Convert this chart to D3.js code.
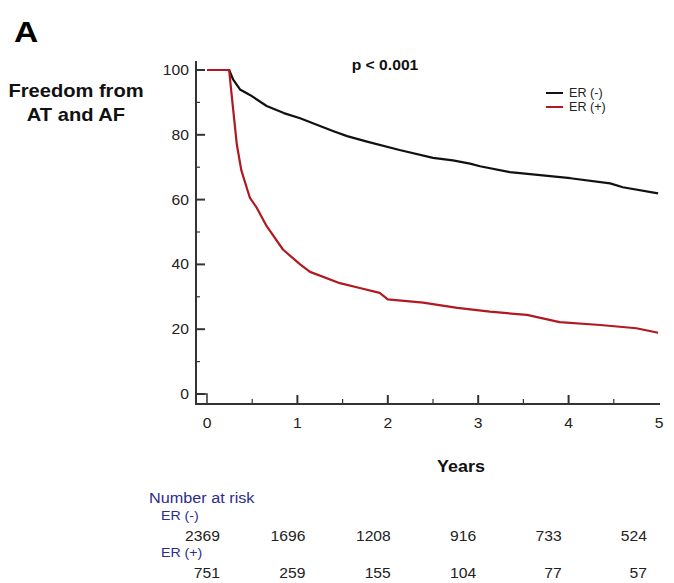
<!DOCTYPE html>
<html>
<head>
<meta charset="utf-8">
<script src="https://cdn.jsdelivr.net/npm/d3@7"></script>
<style>
  body { margin: 0; background: #fff; }
  svg text { font-family: "Liberation Sans", Arial, sans-serif; }
</style>
</head>
<body>
<div id="chart"></div>
<script>
// KM curves: [years, % free]
var erNeg = [[0,100],[0.245,100],[0.29,97],[0.365,94],[0.475,92.3],[0.66,88.9],[0.85,86.7],[1.03,85.1],
  [1.25,82.7],[1.4,81.1],[1.55,79.6],[1.77,77.9],[2.13,75.3],[2.5,72.9],[2.72,72.1],[2.91,71.1],[3.02,70.3],
  [3.35,68.5],[4.02,66.6],[4.46,65],[4.6,63.8],[4.99,61.9]];
var erPos = [[0,100],[0.245,100],[0.27,93],[0.33,77],[0.38,69],[0.475,60.5],[0.55,57.5],[0.66,51.8],[0.84,44.6],
  [1.03,40],[1.14,37.7],[1.47,34.2],[1.69,32.7],[1.91,31.2],[2.0,29.2],[2.39,28.2],[2.77,26.6],[3.13,25.4],
  [3.54,24.4],[3.9,22.2],[4.35,21.3],[4.75,20.3],[4.99,18.9]];

var seriesNames = ["ER (-)", "ER (+)"];
var seriesColors = ["#111111", "#b0191f"];

var yTicks = [0, 20, 40, 60, 80, 100];
var xTicks = [0, 1, 2, 3, 4, 5];

var riskYears = [0, 1, 2, 3, 4, 5];
var riskNeg = [2369, 1696, 1208, 916, 733, 524];
var riskPos = [751, 259, 155, 104, 77, 57];

var W = 674, H = 583;
var svg = d3.select("#chart").append("svg").attr("width", W).attr("height", H);

// the figure's lettering is a bit wider than Liberation Sans
var stretch = 1.12;
function txt(g, px, py, s, size, anchor, opts) {
  opts = opts || {};
  return g.append("text")
    .attr("transform", "translate(" + px + "," + py + ") scale(" + (opts.sx || stretch) + ",1)")
    .attr("text-anchor", anchor || "start")
    .attr("font-size", size)
    .attr("font-weight", opts.bold ? "bold" : null)
    .attr("fill", opts.fill || "#222")
    .text(s);
}

var x = d3.scaleLinear().domain([0, 5]).range([207, 659]);
var y = d3.scaleLinear().domain([0, 100]).range([394, 70]);
var axisCol = "#333";

// axis lines
svg.append("line").attr("x1", 196).attr("x2", 196).attr("y1", 61).attr("y2", 404)
  .attr("stroke", axisCol).attr("stroke-width", 2);
svg.append("line").attr("x1", 195).attr("x2", x(5) + 1).attr("y1", 404).attr("y2", 404)
  .attr("stroke", axisCol).attr("stroke-width", 2);
// small square in the corner
svg.append("path")
  .attr("d", "M196," + y(0) + "H" + x(0) + "V404")
  .attr("fill", "none").attr("stroke", axisCol).attr("stroke-width", 1.5);

// y ticks (inward)
svg.append("g").selectAll("line").data(d3.range(0, 101, 10)).enter().append("line")
  .attr("x1", 196).attr("x2", function(d){ return d % 20 === 0 ? 205 : 200; })
  .attr("y1", function(d){ return y(d); }).attr("y2", function(d){ return y(d); })
  .attr("stroke", axisCol).attr("stroke-width", function(d){ return d % 20 === 0 ? 2 : 1.2; });
var gy = svg.append("g");
yTicks.forEach(function(d){ txt(gy, 189, y(d) + 5, d, 14, "end"); });

// x ticks (inward)
svg.append("g").selectAll("line").data(d3.range(0.5, 5, 0.5)).enter().append("line")
  .attr("x1", function(d){ return x(d); }).attr("x2", function(d){ return x(d); })
  .attr("y1", 404).attr("y2", function(d){ return d % 1 === 0 ? 395 : 399; })
  .attr("stroke", axisCol).attr("stroke-width", function(d){ return d % 1 === 0 ? 2 : 1.2; });
var gx = svg.append("g");
xTicks.forEach(function(d){ txt(gx, x(d), 428, d, 14, "middle"); });

// curves
var line = d3.line().x(function(d){ return x(d[0]); }).y(function(d){ return y(d[1]); });
[erNeg, erPos].forEach(function(s, i){
  svg.append("path").datum(s).attr("d", line)
    .attr("fill", "none").attr("stroke", seriesColors[i]).attr("stroke-width", 2.2)
    .attr("stroke-linejoin", "round");
});

// legend
seriesNames.forEach(function(n, i){
  var ly = 93 + i * 14;
  svg.append("line").attr("x1", 546).attr("x2", 563).attr("y1", ly).attr("y2", ly)
    .attr("stroke", seriesColors[i]).attr("stroke-width", 2);
  txt(svg, 569, ly + 4, n, 12, "start", { sx: 1.05 });
});

// titles
txt(svg, 14, 42, "A", 30, "start", { bold: true, fill: "#000" });
txt(svg, 76, 97, "Freedom from", 17.5, "middle", { bold: true, fill: "#111", sx: 1.15 });
txt(svg, 76, 121, "AT and AF", 17.5, "middle", { bold: true, fill: "#111", sx: 1.15 });
txt(svg, 385, 70, "p < 0.001", 14, "middle", { bold: true, fill: "#111" });
txt(svg, 461, 472, "Years", 16, "middle", { bold: true, fill: "#111" });

// number at risk table
var rx = d3.scaleLinear().domain([0, 5]).range([220, 647]);
var navy = "#2c2c8e";
txt(svg, 149, 503, "Number at risk", 14.5, "start", { fill: navy });
txt(svg, 161, 520, seriesNames[0], 13.5, "start", { fill: navy, sx: 1.05 });
txt(svg, 161, 557, seriesNames[1], 13.5, "start", { fill: navy, sx: 1.05 });
[riskNeg, riskPos].forEach(function(row, i){
  var g = svg.append("g");
  row.forEach(function(d, j){
    txt(g, rx(riskYears[j]), i === 0 ? 541 : 578, d, 14, "end");
  });
});
</script>
</body>
</html>
